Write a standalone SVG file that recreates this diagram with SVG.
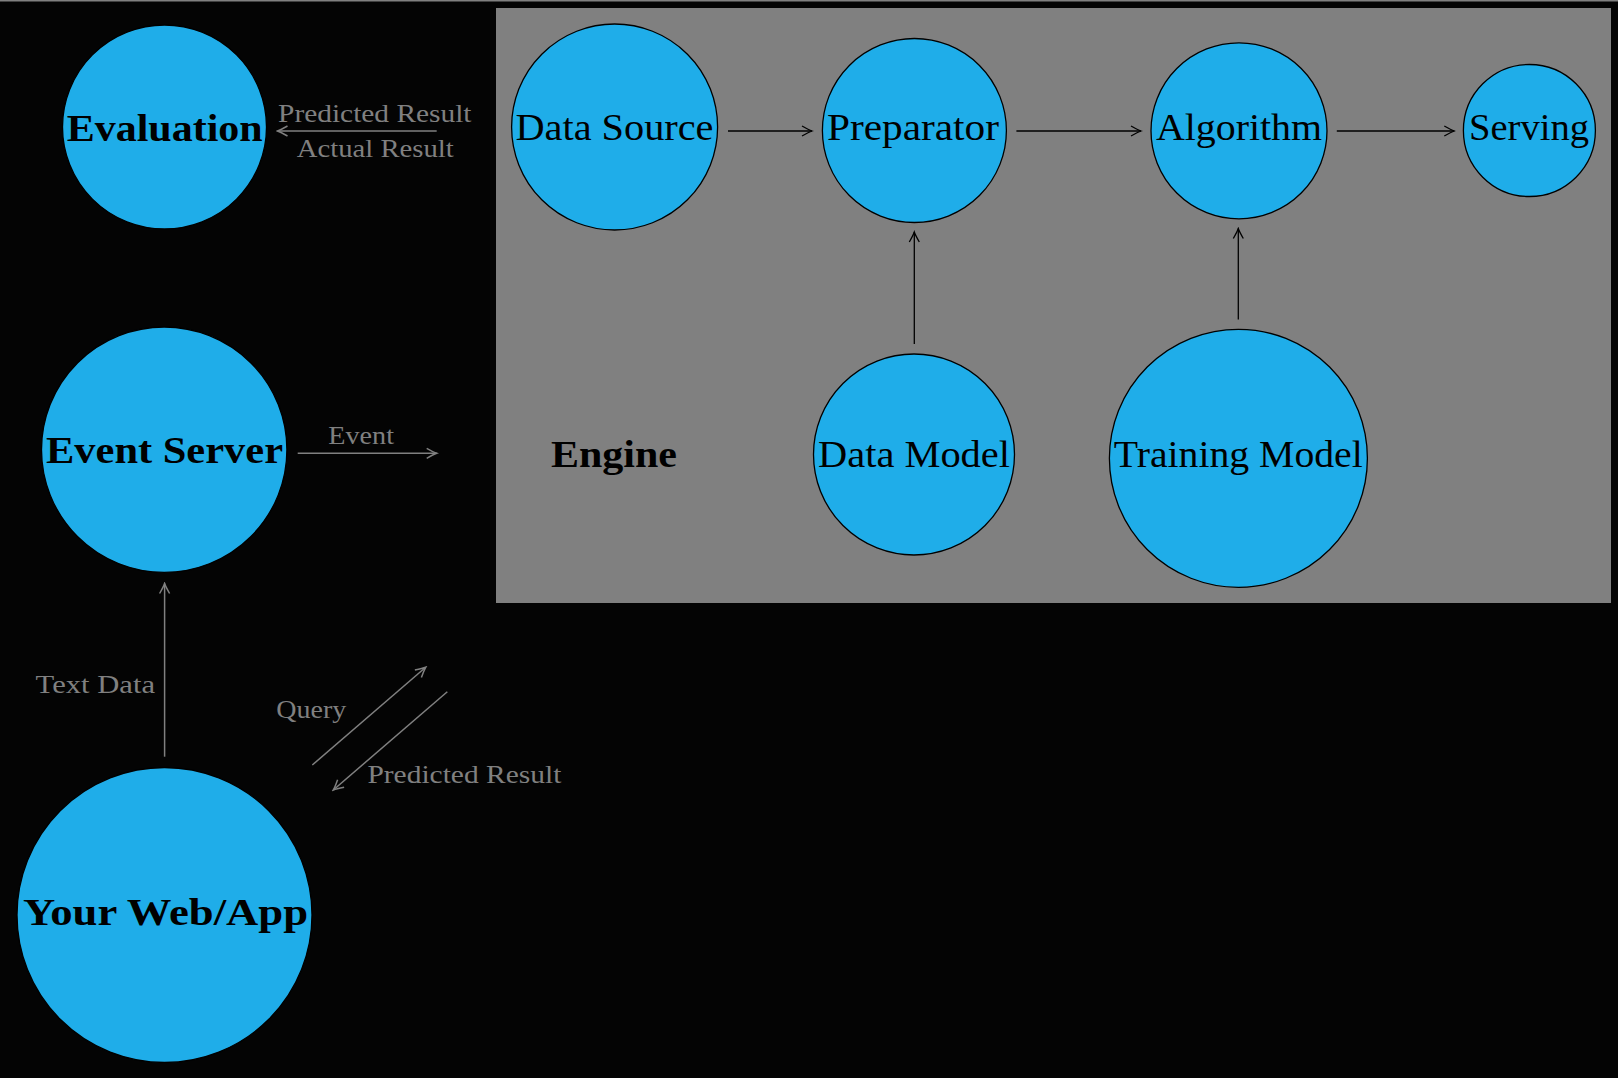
<svg xmlns="http://www.w3.org/2000/svg" width="1618" height="1078" viewBox="0 0 1618 1078">
<defs>
<style>
.node{fill:#1fade9;stroke:#000;stroke-width:1.3}
.nt{font-family:"Liberation Serif",serif;font-size:38px;fill:#000;text-anchor:middle}
.bt{font-family:"Liberation Serif",serif;font-size:37px;font-weight:bold;fill:#000;text-anchor:middle}
.lbl{font-family:"Liberation Serif",serif;font-size:25px;fill:#808080;text-anchor:middle}
.ce{stroke:#000;stroke-width:1.3;fill:none}
.cg{stroke:#808080;stroke-width:1.5;fill:none}
</style>
<marker id="ab" viewBox="-12 -7 14 14" markerWidth="14" markerHeight="14" refX="0" refY="0" orient="auto" markerUnits="userSpaceOnUse">
<path d="M-10,-5 Q-3,-1 0,0 Q-3,1 -10,5" fill="none" stroke="#000" stroke-width="1.3"/>
</marker>
<marker id="ag" viewBox="-12 -7 14 14" markerWidth="14" markerHeight="14" refX="0" refY="0" orient="auto" markerUnits="userSpaceOnUse">
<path d="M-10,-5 Q-3,-1 0,0 Q-3,1 -10,5" fill="none" stroke="#808080" stroke-width="1.5"/>
</marker>
</defs>
<rect x="0" y="0" width="1618" height="1078" fill="#040404"/>
<rect x="0" y="0" width="1618" height="1.5" fill="#808080"/>
<g id="engine">
<rect x="496" y="8" width="1115" height="595" fill="#808080"/>
<text class="bt" x="614" y="466.7" textLength="126" lengthAdjust="spacingAndGlyphs">Engine</text>
</g>
<g id="evaluation">
<circle class="node" cx="164.5" cy="127" r="102"/>
<text class="bt" x="164.7" y="140.7" textLength="196" lengthAdjust="spacingAndGlyphs">Evaluation</text>
</g>
<g id="data-source">
<circle class="node" cx="614.6" cy="127" r="103"/>
<text class="nt" x="614.5" y="140" textLength="198" lengthAdjust="spacingAndGlyphs">Data Source</text>
</g>
<g id="preparator">
<circle class="node" cx="914.4" cy="130.5" r="92"/>
<text class="nt" x="913" y="140" textLength="172" lengthAdjust="spacingAndGlyphs">Preparator</text>
</g>
<g id="algorithm">
<circle class="node" cx="1239" cy="130.8" r="88"/>
<text class="nt" x="1239" y="140" textLength="166" lengthAdjust="spacingAndGlyphs">Algorithm</text>
</g>
<g id="serving">
<circle class="node" cx="1529.4" cy="130.5" r="66"/>
<text class="nt" x="1529" y="140" textLength="120" lengthAdjust="spacingAndGlyphs">Serving</text>
</g>
<g id="event-server">
<circle class="node" cx="164.2" cy="449.7" r="122.7"/>
<text class="bt" x="164.5" y="463.3" textLength="237" lengthAdjust="spacingAndGlyphs">Event Server</text>
</g>
<g id="data-model">
<circle class="node" cx="914" cy="454.5" r="100.5"/>
<text class="nt" x="914" y="466.7" textLength="192" lengthAdjust="spacingAndGlyphs">Data Model</text>
</g>
<g id="training-model">
<circle class="node" cx="1238.4" cy="458.3" r="129"/>
<text class="nt" x="1238.3" y="466.7" textLength="249" lengthAdjust="spacingAndGlyphs">Training Model</text>
</g>
<g id="your-web-app">
<circle class="node" cx="164.5" cy="915" r="147.5"/>
<text class="bt" x="165.5" y="925" textLength="285" lengthAdjust="spacingAndGlyphs">Your Web/App</text>
</g>
<g id="connectors">
<line class="ce" x1="728" y1="131" x2="812" y2="131" marker-end="url(#ab)"/>
<line class="ce" x1="1016.4" y1="131" x2="1141" y2="131" marker-end="url(#ab)"/>
<line class="ce" x1="1336.8" y1="131" x2="1454.3" y2="131" marker-end="url(#ab)"/>
<line class="ce" x1="914.3" y1="344" x2="914.3" y2="232" marker-end="url(#ab)"/>
<line class="ce" x1="1238.3" y1="319.5" x2="1238.3" y2="228.5" marker-end="url(#ab)"/>
<line class="cg" x1="436.7" y1="131" x2="277.5" y2="131" marker-end="url(#ag)"/>
<line class="cg" x1="297.7" y1="453.3" x2="436.7" y2="453.3" marker-end="url(#ag)"/>
<line class="cg" x1="164.6" y1="756.7" x2="164.6" y2="583.5" marker-end="url(#ag)"/>
<line class="cg" x1="312.3" y1="765" x2="425.7" y2="667.3" marker-end="url(#ag)"/>
<line class="cg" x1="447.3" y1="691.7" x2="333.3" y2="790" marker-end="url(#ag)"/>
<text class="lbl" x="374.8" y="121.7" textLength="193.5" lengthAdjust="spacingAndGlyphs">Predicted Result</text>
<text class="lbl" x="375.3" y="157" textLength="157" lengthAdjust="spacingAndGlyphs">Actual Result</text>
<text class="lbl" x="361.2" y="444" textLength="65.7" lengthAdjust="spacingAndGlyphs">Event</text>
<text class="lbl" x="95.3" y="693.3" textLength="119.4" lengthAdjust="spacingAndGlyphs">Text Data</text>
<text class="lbl" x="311.3" y="718.3" textLength="70" lengthAdjust="spacingAndGlyphs">Query</text>
<text class="lbl" x="464.4" y="783.3" textLength="194" lengthAdjust="spacingAndGlyphs">Predicted Result</text>
</g>
</svg>
